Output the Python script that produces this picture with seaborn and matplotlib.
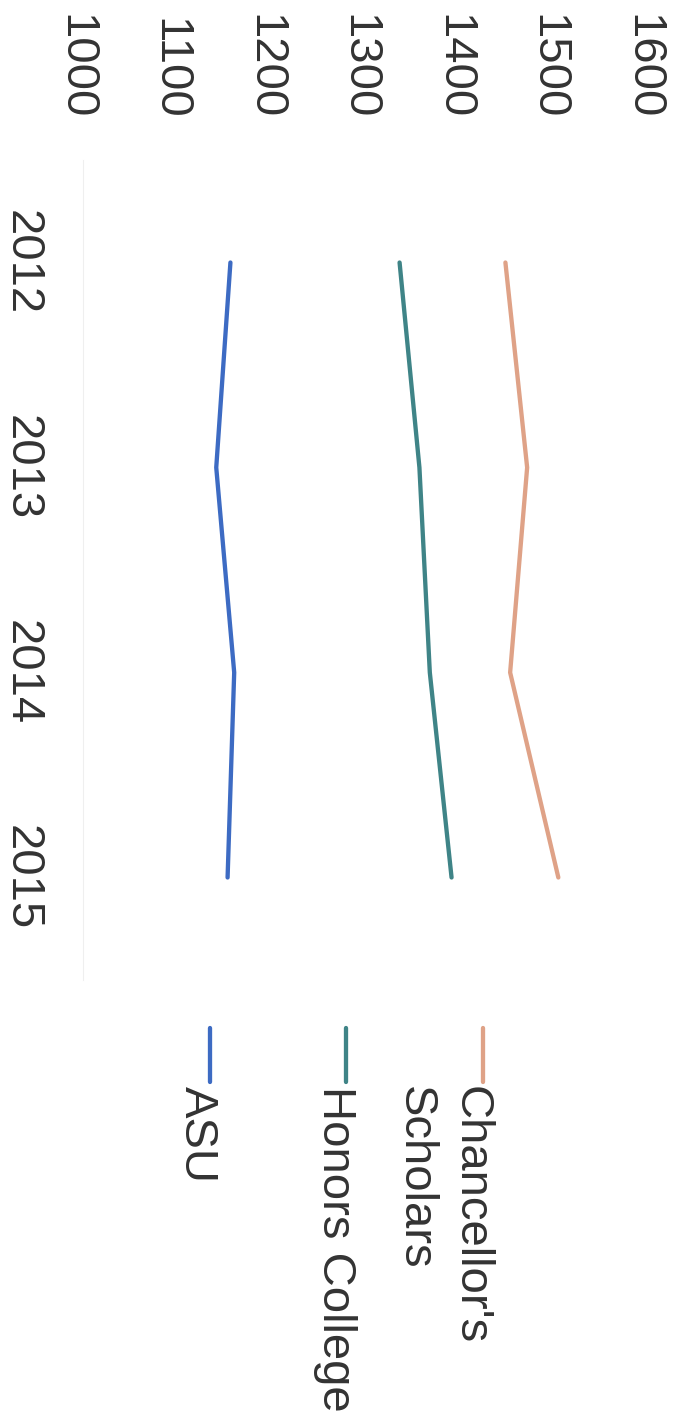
import matplotlib
matplotlib.use("Agg")
import matplotlib.pyplot as plt
from matplotlib.lines import Line2D
from matplotlib.transforms import ScaledTranslation
import seaborn as sns
import pandas as pd

# Mean SAT scores by cohort year
years = [2012, 2013, 2014, 2015]
groups = ["Chancellor's\nScholars", "Honors College", "ASU"]
chancellors = [1447, 1470, 1452, 1503]
honors = [1335, 1356, 1367, 1390]
asu = [1156, 1141, 1160, 1153]
score_ticks = [1000, 1100, 1200, 1300, 1400, 1500, 1600]
colors = ["#DFA287", "#3F8487", "#3D6BC3"]

df = pd.DataFrame({
    "year": years * 3,
    "score": chancellors + honors + asu,
    "group": [g for g in groups for _ in years],
})

sns.set_theme(style="white")
plt.rcParams["font.family"] = ["Liberation Sans", "DejaVu Sans"]
TEXT = "#333333"
FS = 34
LW = 3.1

W, H = 677, 1423
fig = plt.figure(figsize=(W / 100, H / 100), dpi=100)
fig.patch.set_facecolor("white")

# page is turned a quarter clockwise: scores run left->right, years top->bottom
x0, x1 = 83, 650
ytop, ybot = 160, 980
ax = fig.add_axes([x0 / W, 1 - ybot / H, (x1 - x0) / W, (ybot - ytop) / H])

sns.lineplot(data=df, x="score", y="year", hue="group", hue_order=groups,
             palette=colors, orient="y", sort=True, linewidth=LW,
             legend=False, ax=ax)
for ln in ax.lines:
    ln.set_solid_capstyle("round")

ax.set_xlim(1000, 1600)
ax.set_ylim(2015.5, 2011.5)
ax.set_xlabel("")
ax.set_ylabel("")

ax.xaxis.tick_top()
ax.set_xticks(score_ticks)
ax.set_xticklabels([str(v) for v in score_ticks], rotation=-90,
                   fontsize=FS, color=TEXT)
ax.set_yticks(years)
ax.set_yticklabels([str(y) for y in years], rotation=-90,
                   fontsize=FS, color=TEXT, va="center")
ax.tick_params(axis="x", length=0, pad=29)
ax.tick_params(axis="y", length=0, pad=28)

# centre the turned digits on their tick positions
shift = ScaledTranslation(-8 / 100, 0, fig.dpi_scale_trans)
for lbl in ax.get_xticklabels():
    lbl.set_transform(lbl.get_transform() + shift)

for side in ["top", "right", "bottom"]:
    ax.spines[side].set_visible(False)
ax.spines["left"].set_color("#efefef")
ax.spines["left"].set_linewidth(0.8)
ax.grid(False)

# legend, turned with the page
handle_x = [483, 346, 210]
text_x = [415, 323, 185]
for g, c, hx, tx in zip(groups, colors, handle_x, text_x):
    fig.add_artist(Line2D([hx / W, hx / W], [1 - 1028 / H, 1 - 1082 / H],
                          transform=fig.transFigure, color=c, lw=LW,
                          solid_capstyle="round"))
    fig.text(tx / W, 1 - 1086 / H, g, rotation=-90, rotation_mode="anchor",
             ha="left", va="baseline", multialignment="left",
             fontsize=FS, color=TEXT, linespacing=1.37)

fig.savefig("out.png", dpi=100, facecolor="white")
